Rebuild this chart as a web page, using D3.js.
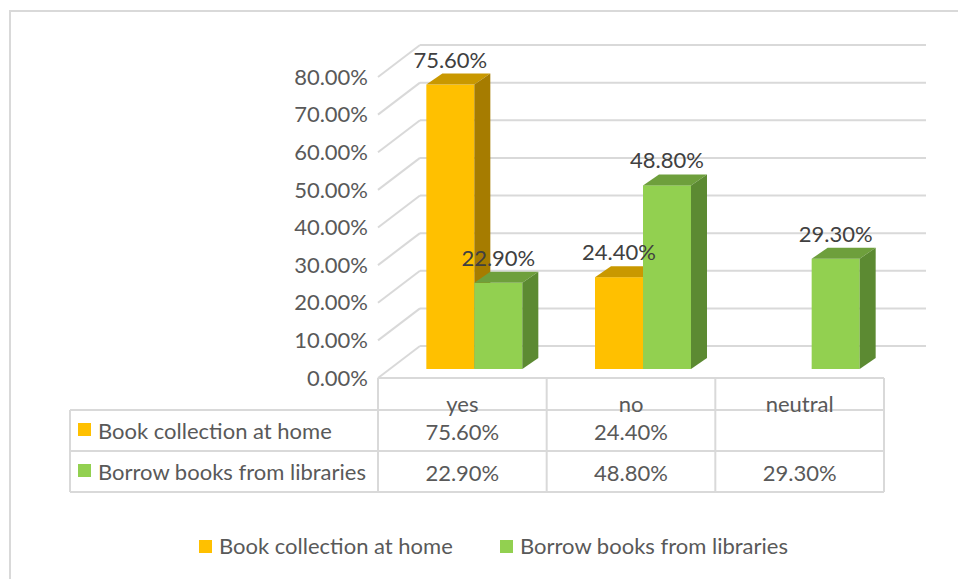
<!DOCTYPE html>
<html>
<head>
<meta charset="utf-8">
<script src="https://cdnjs.cloudflare.com/ajax/libs/d3/7.8.5/d3.min.js"></script>
<style>
  body { margin: 0; background: #fff; }
  svg text { font-family: Lato, "Open Sans", sans-serif; }
</style>
</head>
<body>
<div id="chart"></div>
<script>
// data
var categories = ["yes", "no", "neutral"];
var seriesNames = ["Book collection at home", "Borrow books from libraries"];
var bookAtHome = [0.756, 0.244, null];
var borrowBooks = [0.229, 0.488, 0.293];
var yTicks = [0, 0.1, 0.2, 0.3, 0.4, 0.5, 0.6, 0.7, 0.8];

var colors = {
  front: ["#FFC000", "#92D050"],
  top:   ["#C99800", "#6E9F3C"],
  side:  ["#A67C00", "#5C8A32"]
};

var width = 958, height = 579;
var fontSize = "22px";
var fmt = d3.format(".2%");

var svg = d3.select("#chart")
  .append("svg")
  .attr("width", width)
  .attr("height", height);

// chart frame
svg.append("rect")
  .attr("x", 10).attr("y", 11)
  .attr("width", 960).attr("height", 600)
  .attr("fill", "none")
  .attr("stroke", "#d9d9d9")
  .attr("stroke-width", 2);

// ---------------------------//
//       SCALES               //
// ---------------------------//
var x = d3.scaleBand()
  .domain(categories)
  .range([378, 884]);

var xs = d3.scaleBand()
  .domain(seriesNames)
  .range([0, x.bandwidth()])
  .paddingOuter(0.757);

var y = d3.scaleLinear()
  .domain([0, 0.8])
  .range([378, 77]);

// depth offsets (back wall, bar front plane, bar depth)
var back = {dx: 42, dy: -32};
var barPlane = {dx: 12, dy: -9};
var barDepth = {dx: 16, dy: -11};

// ---------------------------//
//       WALLS / GRIDLINES    //
// ---------------------------//
var grid = svg.append("g")
  .attr("stroke", "#d9d9d9")
  .attr("stroke-width", 2)
  .attr("fill", "none");

grid.selectAll(".side")
  .data(yTicks)
  .enter()
  .append("line")
    .attr("x1", x.range()[0])
    .attr("y1", function(d){ return y(d) })
    .attr("x2", x.range()[0] + back.dx)
    .attr("y2", function(d){ return y(d) + back.dy });

grid.selectAll(".backline")
  .data(yTicks)
  .enter()
  .append("line")
    .attr("x1", x.range()[0] + back.dx)
    .attr("y1", function(d){ return y(d) + back.dy })
    .attr("x2", x.range()[1] + back.dx)
    .attr("y2", function(d){ return y(d) + back.dy });

// y tick labels
svg.selectAll(".ytick")
  .data(yTicks)
  .enter()
  .append("text")
    .attr("x", 368)
    .attr("y", function(d){ return y(d) })
    .attr("dy", "0.35em")
    .attr("text-anchor", "end")
    .attr("font-size", fontSize)
    .attr("fill", "#595959")
    .text(function(d){ return fmt(d) });

// ---------------------------//
//       3D BARS              //
// ---------------------------//
var bars = [];
categories.forEach(function(c, i) {
  [bookAtHome, borrowBooks].forEach(function(vals, s) {
    if (vals[i] != null) bars.push({cat: c, s: s, v: vals[i]});
  });
});

var bw = xs.bandwidth();
var barG = svg.append("g");

bars.forEach(function(d) {
  var x0 = x(d.cat) + xs(seriesNames[d.s]) + barPlane.dx;
  var x1 = x0 + bw;
  var yb = y(0) + barPlane.dy;
  var yt = y(d.v) + barPlane.dy;
  var g = barG.append("g");

  g.append("rect")
    .attr("x", x0).attr("y", yt)
    .attr("width", bw).attr("height", yb - yt)
    .attr("fill", colors.front[d.s]);

  g.append("path")
    .attr("d", "M" + x0 + "," + yt + "L" + x1 + "," + yt +
               "L" + (x1 + barDepth.dx) + "," + (yt + barDepth.dy) +
               "L" + (x0 + barDepth.dx) + "," + (yt + barDepth.dy) + "Z")
    .attr("fill", colors.top[d.s]);

  g.append("path")
    .attr("d", "M" + x1 + "," + yt + "L" + (x1 + barDepth.dx) + "," + (yt + barDepth.dy) +
               "L" + (x1 + barDepth.dx) + "," + (yb + barDepth.dy) +
               "L" + x1 + "," + yb + "Z")
    .attr("fill", colors.side[d.s]);
});

// data labels
svg.selectAll(".dlabel")
  .data(bars)
  .enter()
  .append("text")
    .attr("x", function(d){ return x(d.cat) + xs(seriesNames[d.s]) + barPlane.dx + bw / 2 })
    .attr("y", function(d){ return y(d.v) + barPlane.dy - 17 })
    .attr("text-anchor", "middle")
    .attr("font-size", fontSize)
    .attr("fill", "#404040")
    .text(function(d){ return fmt(d.v) });

// ---------------------------//
//       DATA TABLE           //
// ---------------------------//
var rowY = [410, 451, 492];
var tableLeft = 70;
var tg = svg.append("g")
  .attr("stroke", "#d9d9d9")
  .attr("stroke-width", 2);

// top of the category row
tg.append("line")
  .attr("x1", x.range()[0]).attr("x2", x.range()[1])
  .attr("y1", y(0)).attr("y2", y(0));

// horizontal rows
tg.selectAll(".hrow")
  .data(rowY)
  .enter()
  .append("line")
    .attr("x1", tableLeft).attr("x2", x.range()[1])
    .attr("y1", function(d){ return d }).attr("y2", function(d){ return d });

// vertical separators
var colEdges = categories.map(function(c){ return x(c) }).concat([x.range()[1]]);
tg.selectAll(".vcol")
  .data(colEdges)
  .enter()
  .append("line")
    .attr("x1", function(d){ return d }).attr("x2", function(d){ return d })
    .attr("y1", y(0)).attr("y2", rowY[2]);

tg.append("line")
  .attr("x1", tableLeft).attr("x2", tableLeft)
  .attr("y1", rowY[0]).attr("y2", rowY[2]);

// category labels (sit on the row line like the original)
svg.selectAll(".cat")
  .data(categories)
  .enter()
  .append("text")
    .attr("x", function(d){ return x(d) + x.bandwidth() / 2 })
    .attr("y", 412)
    .attr("text-anchor", "middle")
    .attr("font-size", fontSize)
    .attr("fill", "#595959")
    .text(function(d){ return d });

// values in rows
[bookAtHome, borrowBooks].forEach(function(vals, s) {
  var base = rowY[s] + 30;
  svg.selectAll(".val" + s)
    .data(vals)
    .enter()
    .append("text")
      .attr("x", function(d, i){ return x(categories[i]) + x.bandwidth() / 2 })
      .attr("y", base)
      .attr("text-anchor", "middle")
      .attr("font-size", fontSize)
      .attr("fill", "#595959")
      .text(function(d){ return d == null ? "" : fmt(d) });

  svg.append("rect")
    .attr("x", 78).attr("y", rowY[s] + 13)
    .attr("width", 13).attr("height", 13)
    .attr("fill", colors.front[s]);

  svg.append("text")
    .attr("x", 98).attr("y", base - 1)
    .attr("font-size", fontSize)
    .attr("fill", "#595959")
    .text(seriesNames[s]);
});

// ---------------------------//
//       LEGEND               //
// ---------------------------//
var legendX = [199, 500];
seriesNames.forEach(function(name, s) {
  svg.append("rect")
    .attr("x", legendX[s]).attr("y", 540)
    .attr("width", 13).attr("height", 13)
    .attr("fill", colors.front[s]);
  svg.append("text")
    .attr("x", legendX[s] + 20).attr("y", 554)
    .attr("font-size", fontSize)
    .attr("fill", "#595959")
    .text(name);
});
</script>
</body>
</html>
